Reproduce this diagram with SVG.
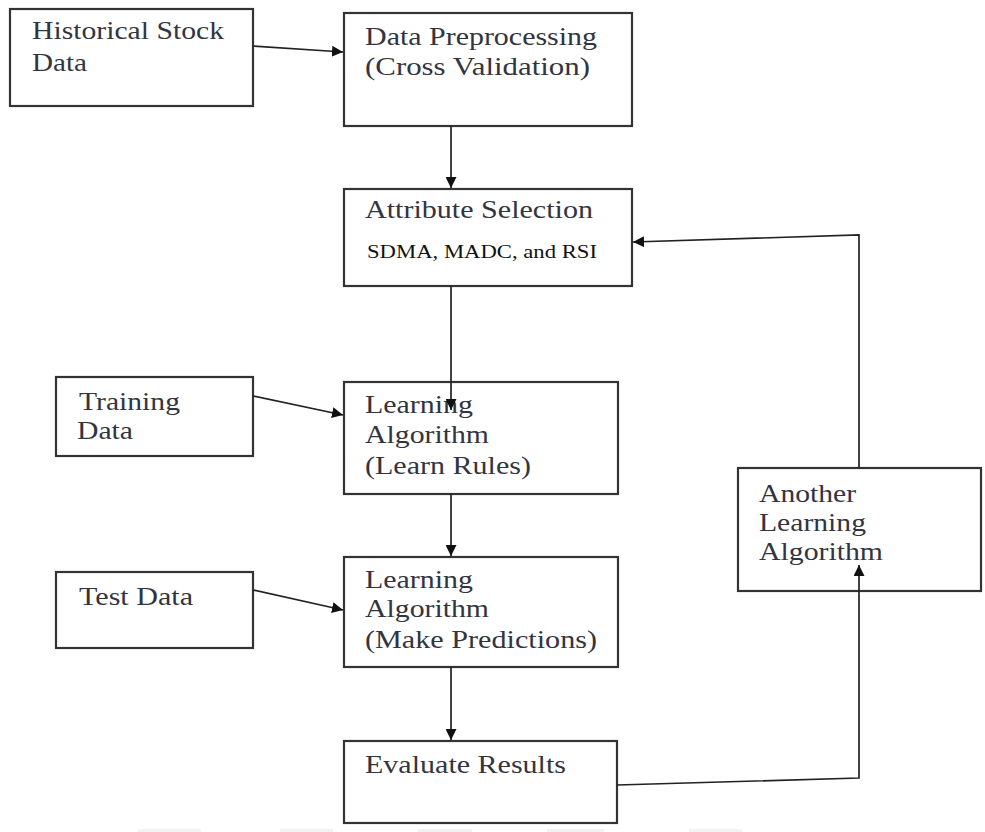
<svg xmlns="http://www.w3.org/2000/svg" width="985" height="832" viewBox="0 0 985 832">
  <style>
    .box { fill: #ffffff; stroke: #333333; stroke-width: 2.2; }
    .lbl { font-family: "Liberation Serif", "Times New Roman", serif; font-size: 26px; fill: #32353f; }
    .small { font-family: "Liberation Serif", "Times New Roman", serif; font-size: 18px; fill: #111111; }
    .edge { fill: none; stroke: #222222; stroke-width: 1.7; }
    .haze { fill: #f2f2f2; }
  </style>
  <defs>
    <marker id="arrow" viewBox="0 0 10 10" refX="10" refY="5" markerWidth="11" markerHeight="11" markerUnits="userSpaceOnUse" orient="auto">
      <path d="M0,0 L10,5 L0,10 z" fill="#111111"/>
    </marker>
  </defs>
  <rect width="985" height="832" fill="#ffffff"/>

  <g id="hist">
    <rect class="box" x="10" y="9" width="243" height="97"/>
    <text class="lbl" x="32" y="39" textLength="192" lengthAdjust="spacingAndGlyphs">Historical Stock</text>
    <text class="lbl" x="32" y="71" textLength="55" lengthAdjust="spacingAndGlyphs">Data</text>
  </g>

  <g id="preprocess">
    <rect class="box" x="344" y="13" width="288" height="113"/>
    <text class="lbl" x="365" y="45" textLength="232" lengthAdjust="spacingAndGlyphs">Data Preprocessing</text>
    <text class="lbl" x="365" y="75" textLength="225" lengthAdjust="spacingAndGlyphs">(Cross Validation)</text>
  </g>

  <g id="attributes">
    <rect class="box" x="344" y="189" width="288" height="97"/>
    <text class="lbl" x="365" y="218" textLength="228" lengthAdjust="spacingAndGlyphs">Attribute Selection</text>
    <text class="small" x="367" y="258" textLength="230" lengthAdjust="spacingAndGlyphs">SDMA, MADC, and RSI</text>
  </g>

  <g id="training">
    <rect class="box" x="56" y="377" width="197" height="79"/>
    <text class="lbl" x="79" y="410" textLength="101" lengthAdjust="spacingAndGlyphs">Training</text>
    <text class="lbl" x="77" y="439" textLength="56" lengthAdjust="spacingAndGlyphs">Data</text>
  </g>

  <g id="learn-rules">
    <rect class="box" x="344" y="382" width="274" height="112"/>
    <text class="lbl" x="365" y="413" textLength="108" lengthAdjust="spacingAndGlyphs">Learning</text>
    <text class="lbl" x="365" y="443" textLength="124" lengthAdjust="spacingAndGlyphs">Algorithm</text>
    <text class="lbl" x="365" y="474" textLength="166" lengthAdjust="spacingAndGlyphs">(Learn Rules)</text>
  </g>

  <g id="test">
    <rect class="box" x="56" y="572" width="197" height="76"/>
    <text class="lbl" x="79" y="605" textLength="114" lengthAdjust="spacingAndGlyphs">Test Data</text>
  </g>

  <g id="predict">
    <rect class="box" x="344" y="557" width="274" height="110"/>
    <text class="lbl" x="365" y="588" textLength="108" lengthAdjust="spacingAndGlyphs">Learning</text>
    <text class="lbl" x="365" y="617" textLength="124" lengthAdjust="spacingAndGlyphs">Algorithm</text>
    <text class="lbl" x="365" y="648" textLength="232" lengthAdjust="spacingAndGlyphs">(Make Predictions)</text>
  </g>

  <g id="evaluate">
    <rect class="box" x="344" y="741" width="273" height="82"/>
    <text class="lbl" x="365" y="773" textLength="201" lengthAdjust="spacingAndGlyphs">Evaluate Results</text>
  </g>

  <g id="another">
    <rect class="box" x="738" y="468" width="243" height="123"/>
    <text class="lbl" x="759" y="502" textLength="97" lengthAdjust="spacingAndGlyphs">Another</text>
    <text class="lbl" x="759" y="531" textLength="107" lengthAdjust="spacingAndGlyphs">Learning</text>
    <text class="lbl" x="759" y="560" textLength="124" lengthAdjust="spacingAndGlyphs">Algorithm</text>
  </g>

  <g id="connectors">
    <path class="edge" d="M253,46 L343,52" marker-end="url(#arrow)"/>
    <path class="edge" d="M451,126 L451,188" marker-end="url(#arrow)"/>
    <path class="edge" d="M451,286 L451,410" marker-end="url(#arrow)"/>
    <path class="edge" d="M253,396 L343,415" marker-end="url(#arrow)"/>
    <path class="edge" d="M451,494 L451,556" marker-end="url(#arrow)"/>
    <path class="edge" d="M253,590 L343,610" marker-end="url(#arrow)"/>
    <path class="edge" d="M451,667 L451,740" marker-end="url(#arrow)"/>
    <path class="edge" d="M617,785 L859,778 L859,565" marker-end="url(#arrow)"/>
    <path class="edge" d="M859,468 L859,235 L633,242" marker-end="url(#arrow)"/>
  </g>

  <!-- faint marks along the lower edge -->
  <g id="edge-marks">
    <rect class="haze" x="138" y="829" width="63" height="3"/>
    <rect class="haze" x="280" y="829" width="53" height="3"/>
    <rect class="haze" x="418" y="829" width="54" height="3"/>
    <rect class="haze" x="547" y="829" width="57" height="3"/>
    <rect class="haze" x="689" y="829" width="53" height="3"/>
  </g>
</svg>
